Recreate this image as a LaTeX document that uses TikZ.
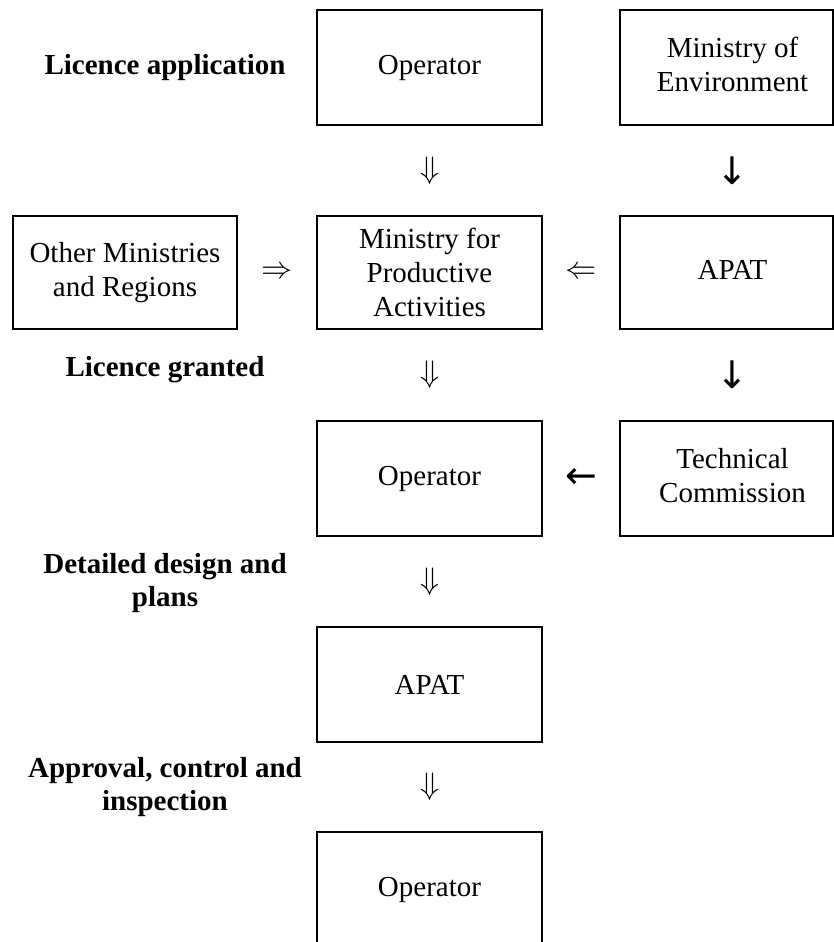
\documentclass[tikz,border=0pt]{standalone}
\usepackage{fontspec}
\setmainfont{Liberation Serif}
\newfontfamily\arrowfont{DejaVu Sans}
\usetikzlibrary{calc}
\newcommand{\rsh}[1]{\hspace*{12pt}\begin{tabular}{@{}c@{}}#1\end{tabular}}
\newcommand{\dbl}[1]{\scalebox{1.25}{$#1$}}
\tikzset{
  every node/.style={font=\fontsize{29}{34}\selectfont},
  boxc/.style={draw, line width=2pt, minimum width=225pt, minimum height=115pt, inner sep=0pt, align=center},
  boxr/.style={boxc, minimum width=213pt},
  lbl/.style={font=\fontsize{29}{33}\selectfont\bfseries, align=center},
  glyph/.style={inner sep=0pt},
  sglyph/.style={inner sep=0pt, font=\fontsize{38}{40}\selectfont\arrowfont}
}
\begin{document}
\begin{tikzpicture}[x=1pt,y=-1pt]
\useasboundingbox (0,0) rectangle (834,942);
% main column
\node[boxc] (op1) at (429.5,67.5) {Operator};
\node[boxc, minimum height=113pt] (mpa) at (429.5,272.5) {Ministry for\\Productive\\Activities};
\node[boxc] (op2) at (429.5,478.5) {Operator};
\node[boxc] (apat2) at (429.5,684.5) {APAT};
\node[boxc] (op3) at (429.5,889.5) {Operator};
% left box
\node[boxc, minimum width=224pt, minimum height=113pt] (other) at (125,272.5) {Other Ministries\\and Regions};
% right column
\node[boxr] (me) at (726.5,67.5) {\rsh{Ministry of\\Environment}};
\node[boxr, minimum height=113pt] (apat) at (726.5,272.5) {\rsh{APAT}};
\node[boxr] (tc) at (726.5,478.5) {\rsh{Technical\\Commission}};
% labels
\node[lbl] (l1) at (165,67.5) {Licence application};
\node[lbl] (l2) at (165,370) {Licence granted};
\node[lbl] (l3) at (165,583) {Detailed design and\\plans};
\node[lbl] (l4) at (165,787) {Approval, control and\\inspection};
% arrows (glyphs)
\node[glyph] (a1) at ($(op1.south)!0.5!(mpa.north)$) {\dbl{\Downarrow}};
\node[glyph] (a2) at ($(mpa.south)!0.5!(op2.north)$) {\dbl{\Downarrow}};
\node[glyph] (a3) at ($(op2.south)!0.5!(apat2.north)$) {\dbl{\Downarrow}};
\node[glyph] (a4) at ($(apat2.south)!0.5!(op3.north)$) {\dbl{\Downarrow}};
\node[glyph] (a5) at ($(other.east)!0.5!(mpa.west)$) {\dbl{\Rightarrow}};
\node[glyph] (a6) at ($(apat.west)!0.5!(mpa.east)$) {\dbl{\Leftarrow}};
\node[sglyph] (a7) at ($(tc.west)!0.5!(op2.east)$) {←};
\node[sglyph, xshift=6pt] (a8) at ($(me.south)!0.5!(apat.north)$) {↓};
\node[sglyph, xshift=6pt] (a9) at ($(apat.south)!0.5!(tc.north)$) {↓};
\end{tikzpicture}
\end{document}
